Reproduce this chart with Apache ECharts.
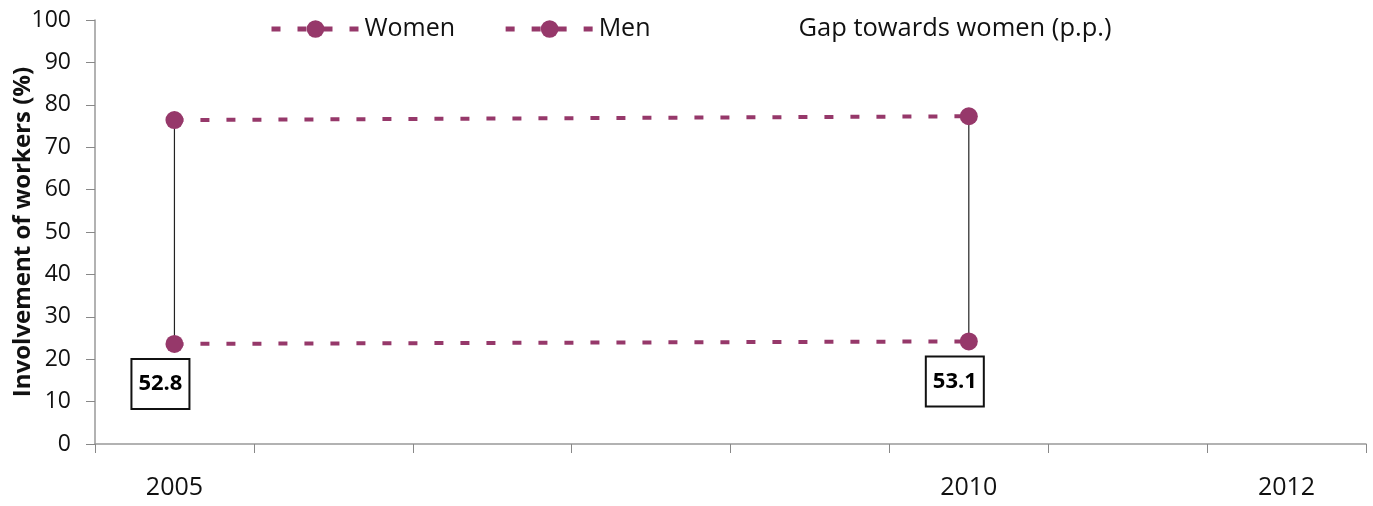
<!DOCTYPE html>
<html>
<head>
<meta charset="utf-8">
<script src="https://cdn.jsdelivr.net/npm/echarts@6/dist/echarts.min.js"></script>
<style>
  html, body { margin: 0; padding: 0; background: #fff; }
  #chart { width: 1373px; height: 506px; }
</style>
</head>
<body>
<div id="chart"></div>
<script>
var years = ['2005', '2006', '2007', '2008', '2009', '2010', '2011', '2012'];
var shownYears = ['2005', '2010', '2012'];
var women = [76.4, null, null, null, null, 77.3, null, null];
var men = [23.6, null, null, null, null, 24.2, null, null];
var gap = [52.8, null, null, null, null, 53.1, null, null];

(function () {
  var purple = '#96386a';
  var font = '"Open Sans", "Noto Sans", sans-serif';
  var chart = echarts.init(document.getElementById('chart'), null, { renderer: 'canvas' });

  var gapData = [];
  years.forEach(function (y, i) {
    if (gap[i] != null) gapData.push([i, men[i], women[i], gap[i]]);
  });

  chart.setOption({
    animation: false,
    textStyle: { fontFamily: font },
    legend: {
      left: 264,
      top: 11,
      itemWidth: 88,
      itemHeight: 22,
      itemGap: 48,
      textStyle: { fontSize: 25, color: '#111', fontFamily: font },
      data: [
        { name: 'Women', lineStyle: { width: 5 } },
        { name: 'Men', lineStyle: { width: 5 } },
        {
          name: 'Gap towards women (p.p.)',
          itemStyle: { opacity: 0 },
          icon: 'rect',
          textStyle: { fontSize: 25.5, padding: [0, 0, 0, 7] }
        }
      ]
    },
    grid: { left: 95, right: 7, top: 20, bottom: 62, outerBoundsMode: 'none', containLabel: false },
    xAxis: {
      type: 'category',
      data: years,
      boundaryGap: true,
      axisLine: { lineStyle: { color: '#999', width: 1.5 } },
      axisTick: { show: true, length: 9, lineStyle: { color: '#888' } },
      axisLabel: {
        interval: 0,
        margin: 31,
        fontSize: 25,
        color: '#111',
        formatter: function (v) { return shownYears.indexOf(v) >= 0 ? v : ''; }
      },
      splitLine: { show: false }
    },
    yAxis: {
      type: 'value',
      min: 0,
      max: 100,
      interval: 10,
      name: 'Involvement of workers (%)',
      nameLocation: 'middle',
      nameGap: 60,
      nameMoveOverlap: false,
      nameTextStyle: { fontSize: 24, fontWeight: 'bold', color: '#111' },
      axisLine: { show: true, lineStyle: { color: '#999', width: 1.5 } },
      axisTick: { show: true, length: 9, lineStyle: { color: '#888' } },
      axisLabel: { fontSize: 23, color: '#111', margin: 24 },
      splitLine: { show: false }
    },
    series: [
      {
        name: 'Women',
        type: 'line',
        data: women,
        connectNulls: true,
        symbol: 'circle',
        symbolSize: 18,
        itemStyle: { color: purple },
        lineStyle: { color: purple, width: 4, type: [9, 17] },
        z: 3
      },
      {
        name: 'Men',
        type: 'line',
        data: men,
        connectNulls: true,
        symbol: 'circle',
        symbolSize: 18,
        itemStyle: { color: purple },
        lineStyle: { color: purple, width: 4, type: [9, 17] },
        z: 3
      },
      {
        name: 'Gap towards women (p.p.)',
        type: 'custom',
        data: gapData,
        encode: { x: 0, y: [1, 2] },
        z: 2,
        renderItem: function (params, api) {
          var lo = api.coord([api.value(0), api.value(1)]);
          var hi = api.coord([api.value(0), api.value(2)]);
          return {
            type: 'group',
            children: [
              {
                type: 'line',
                shape: { x1: lo[0], y1: lo[1], x2: hi[0], y2: hi[1] },
                style: { stroke: '#222', lineWidth: 1.2 }
              },
              {
                type: 'text',
                x: lo[0] - 14,
                y: lo[1] + 40,
                style: {
                  text: api.value(3).toFixed(1),
                  font: 'bold 22px ' + font,
                  fill: '#000',
                  align: 'center',
                  verticalAlign: 'middle',
                  backgroundColor: '#fff',
                  borderColor: '#111',
                  borderWidth: 2,
                  width: 56,
                  height: 48,
                  lineHeight: 48
                }
              }
            ]
          };
        }
      }
    ]
  });
  window.addEventListener('resize', function () { chart.resize(); });
})();
</script>
</body>
</html>
